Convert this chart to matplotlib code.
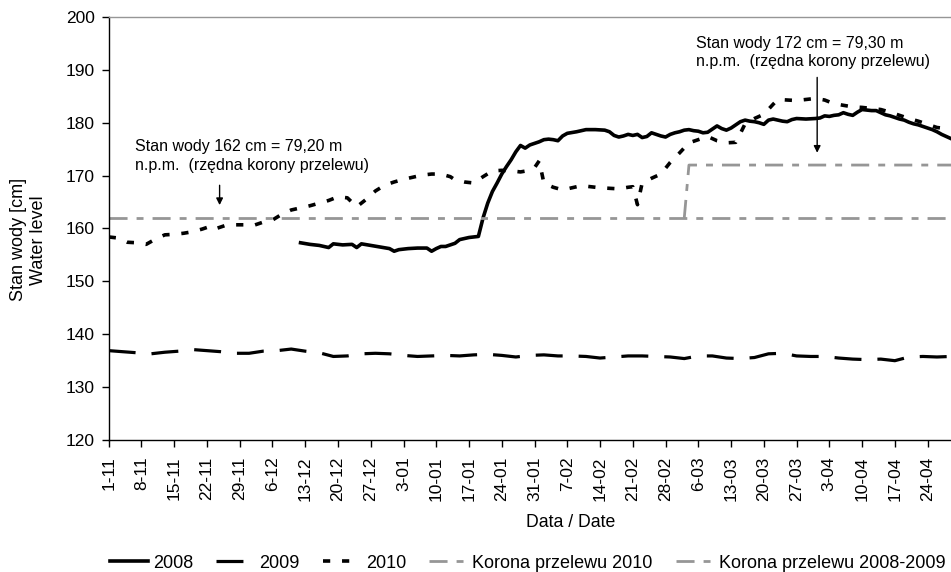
import matplotlib
matplotlib.use("Agg")
import matplotlib.pyplot as plt

plt.rcParams['font.family'] = ['Liberation Sans', 'DejaVu Sans']
plt.rcParams['lines.scale_dashes'] = False

# dzień od 1 listopada
tick_days = list(range(0, 176, 7))
tick_labels = ['1-11', '8-11', '15-11', '22-11', '29-11', '6-12', '13-12', '20-12',
               '27-12', '3-01', '10-01', '17-01', '24-01', '31-01', '7-02', '14-02',
               '21-02', '28-02', '6-03', '13-03', '20-03', '27-03', '3-04', '10-04',
               '17-04', '24-04']

days_2008 = [41, 43, 45, 47, 48, 50, 52, 53, 54, 56, 58, 60, 61, 62, 64, 66, 68, 69, 70,
             71, 72, 74, 75, 77, 79, 80, 81, 82, 83, 84, 85, 86, 87, 88, 89, 90, 91, 92,
             93, 94, 95, 96, 97, 98, 100, 102, 104, 106, 107, 108, 109, 110, 111, 112,
             113, 114, 115, 116, 117, 118, 119, 120, 121, 122, 123, 124, 125, 126, 127,
             128, 129, 130, 131, 132, 133, 134, 135, 136, 137, 138, 139, 140, 141, 142,
             143, 144, 145, 146, 147, 149, 151, 152, 153, 154, 155, 156, 157, 158, 159,
             160, 161, 162, 163, 164, 165, 166, 167, 168, 169, 170, 171, 172, 173, 174,
             175, 176, 177, 178, 179, 180]
level_2008 = [157.3, 157.0, 156.8, 156.4, 157.1, 156.9, 157.0, 156.4, 157.1, 156.8, 156.5,
              156.2, 155.7, 156.0, 156.2, 156.3, 156.3, 155.7, 156.2, 156.6, 156.6, 157.2,
              157.9, 158.3, 158.5, 162.0, 164.8, 167.0, 168.6, 170.3, 171.7, 173.0, 174.5,
              175.7, 175.2, 175.8, 176.1, 176.4, 176.8, 176.9, 176.8, 176.6, 177.5, 178.0,
              178.3, 178.7, 178.7, 178.6, 178.3, 177.6, 177.3, 177.5, 177.8, 177.6, 177.8,
              177.2, 177.4, 178.1, 177.8, 177.5, 177.3, 177.8, 178.1, 178.3, 178.6, 178.7,
              178.5, 178.4, 178.1, 178.2, 178.8, 179.4, 178.9, 178.6, 179.0, 179.6, 180.2,
              180.5, 180.3, 180.2, 180.0, 179.7, 180.5, 180.7, 180.5, 180.3, 180.2, 180.6,
              180.8, 180.7, 180.8, 180.9, 181.3, 181.2, 181.4, 181.5, 181.9, 181.6, 181.4,
              182.0, 182.5, 182.4, 182.3, 182.3, 181.9, 181.5, 181.3, 181.0, 180.7, 180.5,
              180.1, 179.8, 179.6, 179.3, 179.0, 178.7, 178.3, 177.8, 177.4, 177.0]

days_2009 = list(range(0, 181, 3))
level_2009 = [136.9, 136.7, 136.5, 136.3, 136.6, 136.8, 137.1, 136.9, 136.7, 136.4, 136.4,
              136.8, 136.9, 137.2, 136.8, 136.5, 135.8, 135.9, 136.3, 136.4, 136.3, 136.0,
              135.8, 135.9, 136.0, 135.9, 136.1, 136.2, 136.0, 135.7, 136.0, 136.1, 135.9,
              135.9, 135.8, 135.5, 135.7, 135.9, 135.9, 135.8, 135.7, 135.4, 135.9, 135.9,
              135.5, 135.4, 135.6, 136.3, 136.4, 135.9, 135.8, 135.8, 135.5, 135.3, 135.2,
              135.3, 135.0, 135.7, 135.8, 135.7, 135.8]

days_2010 = [0, 2, 4, 6, 8, 10, 12, 14, 16, 18, 20, 22, 23, 25, 27, 29, 31, 33, 35, 37, 39,
             41, 43, 45, 47, 49, 51, 53, 55, 57, 59, 61, 63, 65, 67, 69, 71, 73, 74, 76, 78,
             80, 82, 84, 86, 88, 90, 91, 92, 93, 95, 97, 99, 101, 103, 105, 107, 109, 111,
             112, 113, 114, 116, 118, 120, 122, 124, 126, 128, 130, 132, 134, 135, 136, 138,
             140, 142, 143, 145, 147, 149, 151, 153, 155, 157, 159, 161, 163, 165, 167, 169,
             171, 173, 175, 177, 179]
level_2010 = [158.4, 158.2, 157.4, 157.3, 157.0, 158.0, 158.8, 158.9, 159.1, 159.4, 159.9,
              160.5, 160.0, 160.6, 160.7, 160.7, 160.6, 161.2, 161.6, 162.7, 163.5, 163.9,
              164.3, 164.8, 165.3, 166.0, 165.8, 164.1, 165.5, 167.1, 168.2, 168.8, 169.3,
              169.7, 170.1, 170.3, 170.3, 169.8, 169.2, 168.8, 168.6, 169.8, 170.9, 171.0,
              170.9, 170.7, 171.0, 171.5, 172.8, 168.6, 167.8, 167.3, 167.7, 168.1, 167.9,
              167.7, 167.6, 167.5, 167.8, 167.9, 164.5, 168.6, 169.5, 170.3, 172.5, 174.3,
              176.2, 176.8, 177.4, 176.6, 176.2, 176.3, 178.0, 179.8, 180.8, 181.6, 183.5,
              184.4, 184.3, 184.2, 184.4, 184.6, 184.3, 183.6, 183.3, 183.0, 182.9, 182.7,
              182.5, 182.0, 181.4, 180.8, 180.3, 179.7, 179.1, 178.9]

# rzędne korony przelewu
weir_days_0809 = [0, 180]
weir_level_0809 = [162, 162]
weir_days_2010 = [123, 124, 180]
weir_level_2010 = [162, 172, 172]

gray = '#969696'

fig = plt.figure(figsize=(9.51, 5.72), dpi=100)
ax = fig.add_axes([108.7 / 951, 1 - 440 / 572, 1 - 108.7 / 951, (440 - 17) / 572])

ax.plot(days_2008, level_2008, color='black', lw=2.6, solid_joinstyle='round', label='2008')
ax.plot(days_2009, level_2009, color='black', lw=2.3, dashes=[19.4, 11.5], label='2009')
ax.plot(days_2010, level_2010, color='black', lw=2.6, dashes=[5.2, 8.5], label='2010')
ax.plot(weir_days_2010, weir_level_2010, color=gray, lw=2.0,
        dashes=[13, 6.5, 5, 6.5], label='Korona przelewu 2010')
ax.plot(weir_days_0809, weir_level_0809, color=gray, lw=2.0,
        dashes=[13, 6.5, 5, 6.5], label='Korona przelewu 2008-2009')

ax.set_xlim(0, 180)
ax.set_ylim(120, 200)
ax.set_yticks(range(120, 201, 10))
ax.set_xticks(tick_days)
ax.set_xticklabels(tick_labels, rotation=90)
ax.tick_params(axis='both', direction='out', length=5, width=1, labelsize=12.5, colors='black')
ax.tick_params(axis='y', pad=5)
ax.tick_params(axis='x', pad=7)

ax.spines['right'].set_visible(False)
ax.spines['top'].set_color(gray)
ax.spines['top'].set_linewidth(1.0)
ax.spines['left'].set_linewidth(1.0)
ax.spines['bottom'].set_linewidth(1.0)

ax.set_ylabel('Stan wody [cm]\nWater level', fontsize=13, linespacing=1.25)
ax.yaxis.set_label_coords(-0.073, 0.473)
ax.set_xlabel('Data / Date', fontsize=12.7)
ax.xaxis.set_label_coords(0.549, -0.175)

# opisy rzędnych korony przelewu
ax.text(5.6, 176.9, 'Stan wody 162 cm = 79,20 m\nn.p.m.  (rzędna korony przelewu)',
        fontsize=11.5, va='top', ha='left', linespacing=1.3)
ax.annotate('', xy=(23.7, 163.9), xytext=(23.7, 168.7),
            arrowprops=dict(arrowstyle='-|>', color='black', lw=1, mutation_scale=10))
ax.text(125.6, 196.5, 'Stan wody 172 cm = 79,30 m\nn.p.m.  (rzędna korony przelewu)',
        fontsize=11.5, va='top', ha='left', linespacing=1.3)
ax.annotate('', xy=(151.4, 173.8), xytext=(151.4, 189.1),
            arrowprops=dict(arrowstyle='-|>', color='black', lw=1, mutation_scale=10))

handles, labels = ax.get_legend_handles_labels()
fig.legend(handles, labels, loc='center left', bbox_to_anchor=(110 / 951, 9 / 572),
           ncol=5, frameon=False, fontsize=13, handlelength=2.1, handletextpad=0.28,
           columnspacing=1.28, borderpad=0, borderaxespad=0)

fig.savefig('out.png', dpi=100)
